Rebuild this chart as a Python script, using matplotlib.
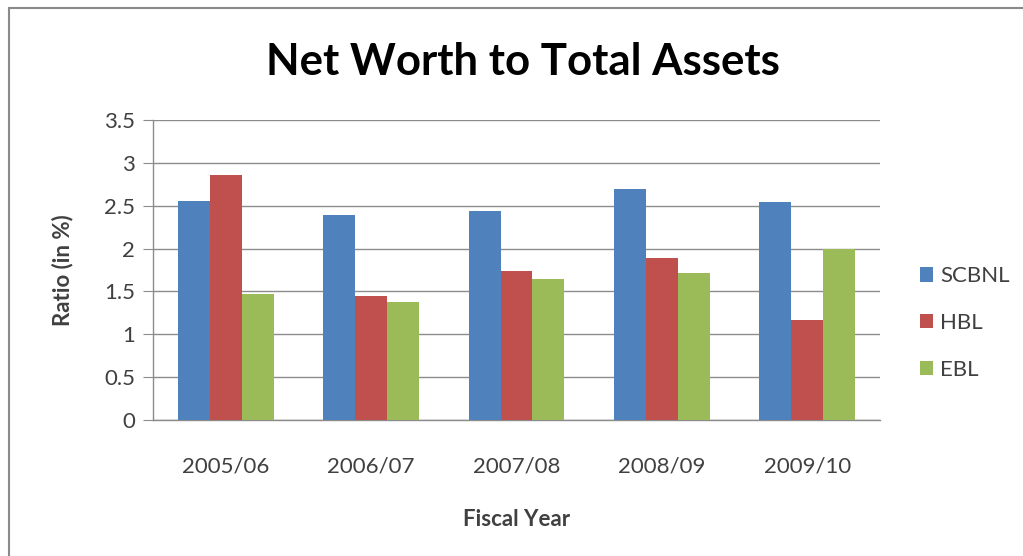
import matplotlib
matplotlib.use("Agg")
import matplotlib.pyplot as plt
from matplotlib.patches import Rectangle
import numpy as np

years = ["2005/06", "2006/07", "2007/08", "2008/09", "2009/10"]
banks = ["SCBNL", "HBL", "EBL"]
scbnl = [2.55, 2.39, 2.44, 2.70, 2.54]
hbl = [2.86, 1.45, 1.74, 1.89, 1.17]
ebl = [1.47, 1.38, 1.64, 1.71, 2.00]
colors = ["#4F81BD", "#C0504D", "#9BBB59"]

plt.rcParams["font.family"] = ["Lato", "DejaVu Sans"]
txt = "#404040"

fig = plt.figure(figsize=(10.23, 5.56), dpi=100)
fig.patch.set_facecolor("white")

# chart frame (top/left edges show, rest runs off the canvas)
fig.patches.append(Rectangle((9 / 1023, -0.05), 1.2, 1 - 8 / 556 + 0.05,
                             transform=fig.transFigure, fill=False,
                             edgecolor="#8a8a8a", linewidth=1.5))

ax = fig.add_axes([153 / 1023, 1 - 420 / 556, 727 / 1023, 300 / 556])

x = np.arange(len(years))
w = 0.22
for i, (vals, name) in enumerate(zip([scbnl, hbl, ebl], banks)):
    ax.bar(x + (i - 1) * w, vals, w, color=colors[i], label=name, zorder=3)

ax.set_xlim(-0.5, len(years) - 0.5)
ax.set_ylim(0, 3.5)
ax.set_yticks(np.arange(0, 3.51, 0.5))
ax.set_yticklabels(["0", "0.5", "1", "1.5", "2", "2.5", "3", "3.5"])
ax.set_xticks(x)
ax.set_xticklabels(years)
ax.yaxis.grid(True, color="#8c8c8c", linewidth=1, zorder=0)
ax.set_axisbelow(True)

for s in ["top", "right"]:
    ax.spines[s].set_visible(False)
for s in ["left", "bottom"]:
    ax.spines[s].set_color("#8c8c8c")
    ax.spines[s].set_linewidth(1)

ax.tick_params(axis="y", length=7, color="#8c8c8c", labelsize=16,
               labelcolor=txt, pad=6)
ax.tick_params(axis="x", length=0, labelsize=16, labelcolor=txt, pad=26)

ax.set_ylabel("Ratio (in %)", fontsize=16, fontweight="bold", color=txt,
              labelpad=22)
ax.set_xlabel("Fiscal Year", fontsize=16, fontweight="bold", color=txt,
              labelpad=24)

fig.text(523 / 1023, 1 - 62 / 556, "Net Worth to Total Assets",
         ha="center", va="center", fontsize=31.5, fontweight="bold",
         color="black")

ax.legend(loc="center left", bbox_to_anchor=(900 / 1023, 1 - 323 / 556),
          bbox_transform=fig.transFigure, frameon=False, fontsize=16,
          handlelength=0.6, handleheight=0.6, handletextpad=0.3,
          labelspacing=1.2, labelcolor=txt)

fig.savefig("out.png", dpi=100)
